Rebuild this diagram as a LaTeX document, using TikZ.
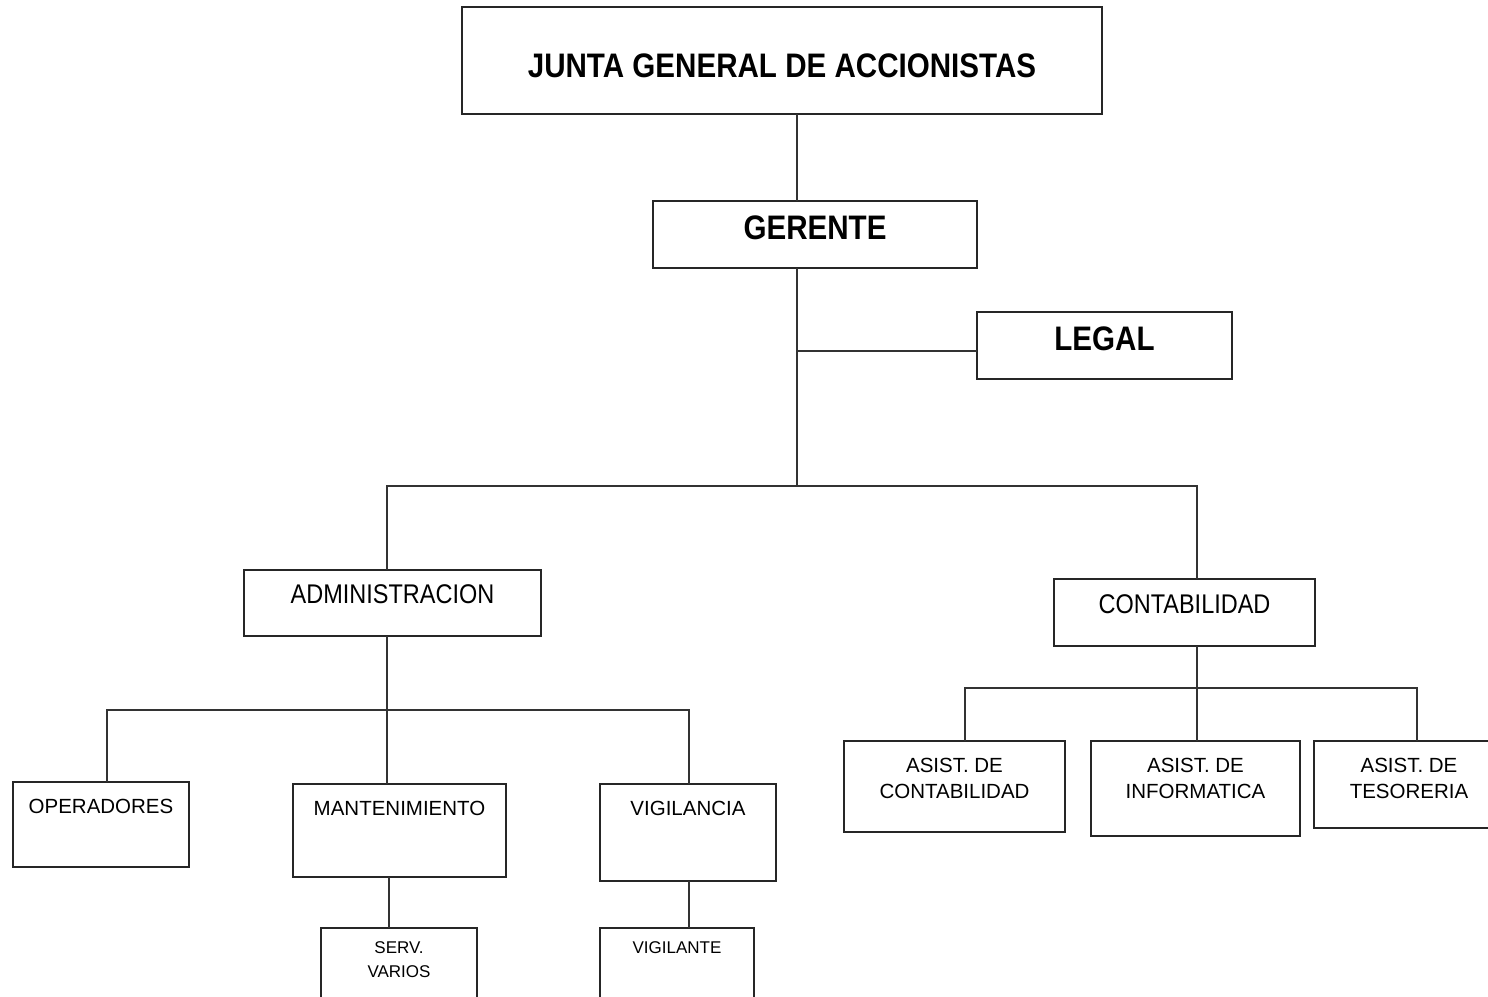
\documentclass[tikz,border=0pt]{standalone}
\usepackage{fontspec}
\setmainfont{Liberation Sans}
\newfontfamily\narrowfont[FakeStretch=0.87]{Liberation Sans}
\usetikzlibrary{positioning}

\newcommand{\fuenteA}{\narrowfont\bfseries\fontsize{34}{40}\selectfont}
\newcommand{\fuenteB}{\narrowfont\fontsize{27}{32}\selectfont}
\newcommand{\fuenteC}{\fontsize{20.5}{26}\selectfont}
\newcommand{\fuenteD}{\fontsize{17}{24}\selectfont}

\begin{document}
\begin{tikzpicture}[x=1pt,y=-1pt,
    caja/.style={draw=black!85, line width=2pt, inner sep=0pt, outer sep=0pt,
        anchor=north west, align=center},
    linea/.style={draw=black!80, line width=1.6pt}]
    \useasboundingbox (0,0) rectangle (1488,996);
    \clip (0,0) rectangle (1488,996);

    \node[caja, font=\fuenteA, minimum width=640pt, text height=70pt, text depth=37pt] (junta) at (462,7) {JUNTA GENERAL DE ACCIONISTAS};
    \node[caja, font=\fuenteA, minimum width=324pt, text height=38pt, text depth=29pt] (gerente) at (653,201) {GERENTE};
    \node[caja, font=\fuenteA, minimum width=255pt, text height=38pt, text depth=29pt] (legal) at (977,312) {LEGAL};

    \node[caja, font=\fuenteB, minimum width=297pt, text height=33pt, text depth=33pt] (admin) at (244,570) {ADMINISTRACION};
    \node[caja, font=\fuenteB, minimum width=261pt, text height=34pt, text depth=33pt] (contab) at (1054,579) {CONTABILIDAD};

    \node[caja, font=\fuenteC, minimum width=176pt, text height=31pt, text depth=54pt] (operadores) at (13,782) {OPERADORES};
    \node[caja, font=\fuenteC, minimum width=213pt, text height=31pt, text depth=62pt] (mant) at (293,784) {MANTENIMIENTO};
    \node[caja, font=\fuenteC, minimum width=176pt, text height=31pt, text depth=66pt] (vigilancia) at (600,784) {VIGILANCIA};

    \node[caja, font=\fuenteD, minimum width=156pt, text height=49pt, text depth=51pt] (servicios) at (321,928) {SERV.\\VARIOS};
    \node[caja, font=\fuenteD, minimum width=154pt, text height=25pt, text depth=75pt] (vigilante) at (600,928) {VIGILANTE};

    \node[caja, font=\fuenteC, minimum width=221pt, text height=57pt, text depth=34pt] (asistCont) at (844,741) {ASIST. DE\\CONTABILIDAD};
    \node[caja, font=\fuenteC, minimum width=209pt, text height=57pt, text depth=38pt] (asistInf) at (1091,741) {ASIST. DE\\INFORMATICA};
    \node[caja, font=\fuenteC, minimum width=190pt, text height=57pt, text depth=30pt] (asistTes) at (1314,741) {ASIST. DE\\TESORERIA};

    % puntos de las ramas
    \coordinate (tronco) at (797,486);
    \coordinate (cruceLegal) at (797,351);
    \coordinate (ramaAdm) at (387,486);
    \coordinate (ramaCon) at (1197,486);
    \coordinate (ejeAdm) at (387,710);
    \coordinate (ramaOpe) at (107,710);
    \coordinate (ramaVig) at (689,710);
    \coordinate (ejeServ) at (389,900);
    \coordinate (ejeCon) at (1197,688);
    \coordinate (ramaAsC) at (965,688);
    \coordinate (ramaAsT) at (1417,688);

    \draw[linea] (junta.south -| tronco) -- (gerente.north -| tronco);
    \draw[linea] (gerente.south -| tronco) -- (tronco);
    \draw[linea] (cruceLegal) -- (cruceLegal -| legal.west);
    \draw[linea] (ramaAdm |- admin.north) -- (ramaAdm) -- (ramaCon) -- (ramaCon |- contab.north);

    \draw[linea] (admin.south -| ejeAdm) -- (ejeAdm |- mant.north);
    \draw[linea] (ramaOpe |- operadores.north) -- (ramaOpe) -- (ramaVig) -- (ramaVig |- vigilancia.north);
    \draw[linea] (mant.south -| ejeServ) -- (servicios.north -| ejeServ);
    \draw[linea] (vigilancia.south -| ramaVig) -- (vigilante.north -| ramaVig);

    \draw[linea] (contab.south -| ejeCon) -- (ejeCon |- asistInf.north);
    \draw[linea] (ramaAsC |- asistCont.north) -- (ramaAsC) -- (ramaAsT) -- (ramaAsT |- asistTes.north);
\end{tikzpicture}
\end{document}
